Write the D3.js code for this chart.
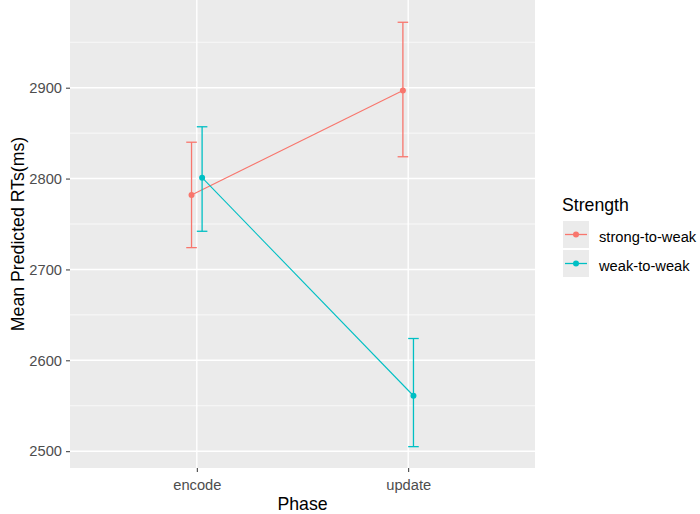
<!DOCTYPE html>
<html>
<head>
<meta charset="utf-8">
<script src="https://cdn.jsdelivr.net/npm/d3@7"></script>
<style>
  body { margin: 0; background: #fff; }
  text { font-family: Arial, "Liberation Sans", sans-serif; }
</style>
</head>
<body>
<div id="chart"></div>
<script>
// data
const phases = ['encode', 'update'];
const groups = ['strong-to-weak', 'weak-to-weak'];
const meanStrong = [2782, 2897];
const lowStrong = [2724, 2824];
const highStrong = [2840, 2972];
const meanWeak = [2801, 2561];
const lowWeak = [2742, 2505];
const highWeak = [2857, 2624];
const yTicks = [2500, 2600, 2700, 2800, 2900];
const colors = ['#F8766D', '#00BFC4'];

const W = 700, H = 514;
const panel = { left: 70, top: 0, right: 535, bottom: 468 };

const svg = d3.select('#chart').append('svg')
  .attr('width', W)
  .attr('height', H);

// discrete x scale with ggplot-style expansion (0.6 units each side)
const x = d3.scaleLinear().domain([0.4, 2.6]).range([panel.left, panel.right]);
const y = d3.scaleLinear().domain([2481.5, 2996.5]).range([panel.bottom, panel.top]);
const dodge = [-0.025, 0.025];

svg.append('rect')
  .attr('x', panel.left).attr('y', panel.top)
  .attr('width', panel.right - panel.left).attr('height', panel.bottom - panel.top)
  .attr('fill', '#EBEBEB');

// minor grid
const minor = [2550, 2650, 2750, 2850, 2950];
svg.selectAll('.minor').data(minor).enter().append('line')
  .attr('x1', panel.left).attr('x2', panel.right)
  .attr('y1', d => y(d)).attr('y2', d => y(d))
  .attr('stroke', '#fff').attr('stroke-width', 0.7);

// major grid
svg.selectAll('.majy').data(yTicks).enter().append('line')
  .attr('x1', panel.left).attr('x2', panel.right)
  .attr('y1', d => y(d)).attr('y2', d => y(d))
  .attr('stroke', '#fff').attr('stroke-width', 1.4);
svg.selectAll('.majx').data(phases).enter().append('line')
  .attr('x1', (d, i) => x(i + 1)).attr('x2', (d, i) => x(i + 1))
  .attr('y1', panel.top).attr('y2', panel.bottom)
  .attr('stroke', '#fff').attr('stroke-width', 1.4);

// axes
const yAxis = svg.append('g')
  .attr('transform', `translate(${panel.left},0)`)
  .call(d3.axisLeft(y).tickValues(yTicks).tickSize(4).tickPadding(4).tickFormat(d3.format('d')));
yAxis.select('.domain').remove();
yAxis.selectAll('line').attr('stroke', '#333');
yAxis.selectAll('text').attr('fill', '#4D4D4D').attr('font-size', 14.7);

const xAxis = svg.append('g')
  .attr('transform', `translate(0,${panel.bottom})`)
  .call(d3.axisBottom(x).tickValues([1, 2]).tickSize(4).tickFormat(d => phases[d - 1]));
xAxis.select('.domain').remove();
xAxis.selectAll('line').attr('stroke', '#333');
xAxis.selectAll('text').attr('fill', '#4D4D4D').attr('font-size', 14.7)
  .attr('y', 22).attr('dy', 0);

// axis titles
svg.append('text')
  .attr('x', (panel.left + panel.right) / 2).attr('y', 510)
  .attr('text-anchor', 'middle').attr('font-size', 17.7).attr('fill', '#000')
  .text('Phase');
svg.append('text')
  .attr('transform', `translate(23.5,${(panel.top + panel.bottom) / 2}) rotate(-90)`)
  .attr('text-anchor', 'middle').attr('font-size', 17.7).attr('fill', '#000')
  .text('Mean Predicted RTs(ms)');

// series
const series = [
  { name: groups[0], mean: meanStrong, low: lowStrong, high: highStrong },
  { name: groups[1], mean: meanWeak, low: lowWeak, high: highWeak }
];

series.forEach((s, g) => {
  const c = colors[g];
  const pts = phases.map((p, i) => ({ xv: i + 1 + dodge[g], m: s.mean[i], lo: s.low[i], hi: s.high[i] }));
  const line = d3.line().x(d => x(d.xv)).y(d => y(d.m));
  svg.append('path').datum(pts)
    .attr('d', line).attr('fill', 'none').attr('stroke', c).attr('stroke-width', 1.1);

  const cap = 0.025;
  const eb = svg.append('g').attr('stroke', c).attr('stroke-width', 1.3).attr('fill', 'none');
  pts.forEach(d => {
    eb.append('line').attr('x1', x(d.xv)).attr('x2', x(d.xv)).attr('y1', y(d.lo)).attr('y2', y(d.hi));
    eb.append('line').attr('x1', x(d.xv - cap)).attr('x2', x(d.xv + cap)).attr('y1', y(d.lo)).attr('y2', y(d.lo));
    eb.append('line').attr('x1', x(d.xv - cap)).attr('x2', x(d.xv + cap)).attr('y1', y(d.hi)).attr('y2', y(d.hi));
  });

  svg.selectAll(null).data(pts).enter().append('circle')
    .attr('cx', d => x(d.xv)).attr('cy', d => y(d.m)).attr('r', 3)
    .attr('fill', c);
});

// legend
const lg = svg.append('g').attr('transform', 'translate(562,0)');
lg.append('text').attr('x', 0).attr('y', 211).attr('font-size', 17.7).attr('fill', '#000').text('Strength');
groups.forEach((name, i) => {
  const top = 221 + i * 29;
  lg.append('rect').attr('x', 1).attr('y', top).attr('width', 26).attr('height', 27).attr('fill', '#EBEBEB');
  lg.append('line').attr('x1', 3).attr('x2', 25).attr('y1', top + 13.5).attr('y2', top + 13.5)
    .attr('stroke', colors[i]).attr('stroke-width', 1.3);
  lg.append('circle').attr('cx', 14).attr('cy', top + 13.5).attr('r', 3).attr('fill', colors[i]);
  lg.append('text').attr('x', 37).attr('y', top + 20.5).attr('font-size', 14.7).attr('fill', '#000').text(name);
});
</script>
</body>
</html>
